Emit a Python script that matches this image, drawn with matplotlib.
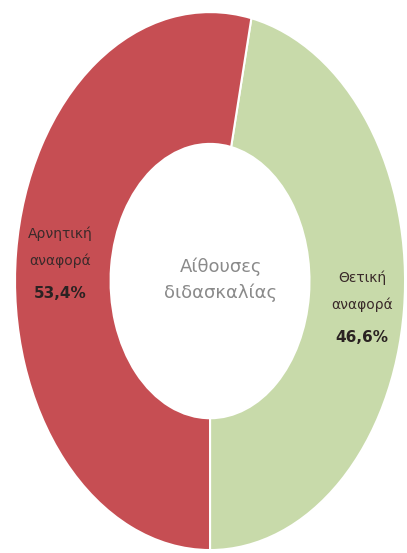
import matplotlib.pyplot as plt

plt.rcParams['font.family'] = ['DejaVu Sans']

categories = ['Θετική\nαναφορά', 'Αρνητική\nαναφορά']
shares = [46.6, 53.4]
pct_labels = ['46,6%', '53,4%']
colors = ['#c8daaa', '#c64e53']
title = 'Αίθουσες\nδιδασκαλίας'

W, H = 407, 553
fig = plt.figure(figsize=(W / 100, H / 100), dpi=100)
ax = fig.add_axes([0, 0, 1, 1])

wedges, _ = ax.pie(shares, colors=colors, startangle=270, counterclock=True,
                   radius=1.0, wedgeprops=dict(width=0.49, edgecolor='white', linewidth=1.5))
ax.set_aspect('auto')
ax.set_xlim(-1.077, 1.01)
ax.set_ylim(-1.011, 1.045)

# text placed in figure pixels (from top-left)
def put(px, py, s, **kw):
    fig.text(px / W, 1 - py / H, s, ha='center', va='center', **kw)

label_pos = [(362, 276, 338), (60, 232, 294)]
for (px, py, py_pct), cat, pct in zip(label_pos, categories, pct_labels):
    put(px, py + 15, cat, fontsize=10, color='#3a2a2a', linespacing=2.1)
    put(px, py_pct, pct, fontsize=11, fontweight='bold', color='#2a2222')

put(221, 280, title, fontsize=13, color='#8a8a8a', linespacing=1.5)

fig.savefig('out.png', dpi=100)
